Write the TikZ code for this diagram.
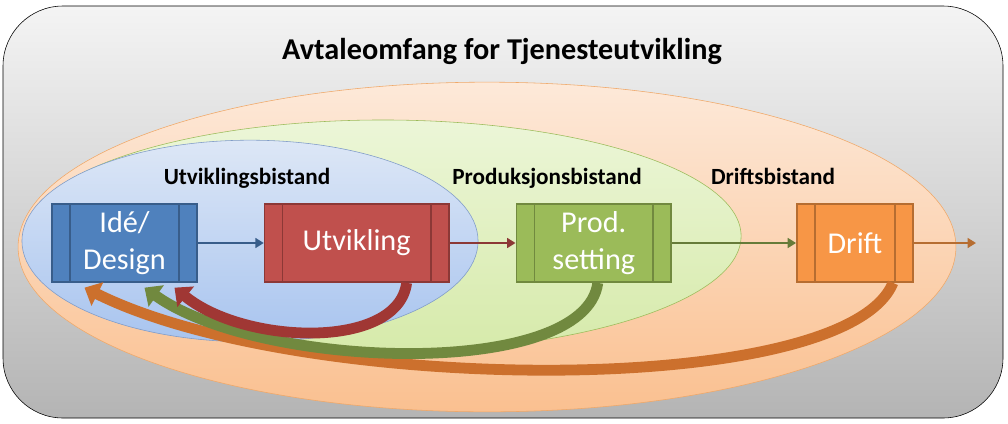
\documentclass[tikz,border=0pt]{standalone}
\usepackage{fontspec}
\setmainfont{Carlito}
\usetikzlibrary{positioning, arrows.meta}
\definecolor{frametop}{HTML}{F4F4F4}
\definecolor{framebot}{HTML}{B4B4B4}
\definecolor{ideablue}{HTML}{4F81BD}
\definecolor{idealine}{HTML}{385D8A}
\definecolor{devred}{HTML}{C0504D}
\definecolor{devline}{HTML}{8C3836}
\definecolor{prodgreen}{HTML}{9BBB59}
\definecolor{prodline}{HTML}{71893F}
\definecolor{opsorange}{HTML}{F79646}
\definecolor{opsline}{HTML}{B66D31}
\definecolor{opstop}{HTML}{FDE9D9}
\definecolor{opsbot}{HTML}{FAC090}
\definecolor{opsedge}{HTML}{F0A868}
\definecolor{prodtop}{HTML}{ECF6D8}
\definecolor{prodbot}{HTML}{D6EAAA}
\definecolor{devtop}{HTML}{DDE7F6}
\definecolor{devbot}{HTML}{A8C4EF}
\definecolor{devedge}{HTML}{7F9BC8}
\definecolor{opsback}{HTML}{CC702D}
\definecolor{devback}{HTML}{A03734}
\tikzset{
    procbox/.style 2 args={rectangle, fill=#1, draw=#2, line width=1.2pt, minimum height=1.95cm, inner sep=0pt,
        text=white, font=\fontsize{21.5}{26}\selectfont, align=center,
        path picture={\draw[#2, line width=1.2pt]
            ([xshift=0.45cm]path picture bounding box.north west) -- ([xshift=0.45cm]path picture bounding box.south west)
            ([xshift=-0.45cm]path picture bounding box.north east) -- ([xshift=-0.45cm]path picture bounding box.south east);}},
    zone/.style={anchor=base, font=\fontsize{16.5}{19}\selectfont\bfseries},
    flow/.style={line width=2pt, -{Triangle[width=7pt, length=6pt]}},
    loopback/.style={line width=0.27cm, -{Triangle[width=0.64cm, length=0.36cm]}}
}
\begin{document}
\begin{tikzpicture}[x=0.025cm, y=-0.025cm]
    \useasboundingbox (0,0) rectangle (1008,423);
    % ramme og omfang
    \shade[top color=frametop, bottom color=framebot, draw=black, rounded corners=1.5cm] (3,6) rectangle (1003,418);
    \node (title) at (502,51) {\fontsize{21.5}{25}\selectfont\bfseries Avtaleomfang for Tjenesteutvikling};

    \shade[top color=opstop, bottom color=opsbot, draw=opsedge] (487,247) ellipse [x radius=11.72cm, y radius=4.12cm];
    \shade[top color=prodtop, bottom color=prodbot, draw=prodgreen] (383,236) ellipse [x radius=8.95cm, y radius=2.9cm];
    \shade[top color=devtop, bottom color=devbot, draw=devedge] (250,241) ellipse [x radius=5.7cm, y radius=2.52cm];

    \node[zone] (devzone) at (247,184) {Utviklingsbistand};
    \node[zone] (prodzone) at (547,184) {Produksjonsbistand};
    \node[zone] (opszone) at (773,184) {Driftsbistand};

    % prosessboksene
    \node[procbox={ideablue}{idealine}, minimum width=3.62cm] (idea) at (124.5,243) {Idé/\\Design};
    \node[procbox={devred}{devline}, minimum width=4.6cm, right=1.65cm of idea] (dev) {Utvikling};
    \node[procbox={prodgreen}{prodline}, minimum width=3.87cm, right=1.65cm of dev] (prod) {Prod.\\setting};
    \node[procbox={opsorange}{opsline}, minimum width=2.9cm, right=3.1cm of prod] (ops) {Drift};
    \coordinate (out) at (976,243);

    \draw[flow, idealine] (idea) -- (dev);
    \draw[flow, devline] (dev) -- (prod);
    \draw[flow, prodline!90!black] (prod) -- (ops);
    \draw[flow, opsline] (ops) -- (out);

    % tilbakemeldinger til Idé/Design
    \draw[loopback, opsback] ([xshift=0.95cm]ops.south) .. controls (845,400) and (300,395) .. ([xshift=-1cm,yshift=-0.12cm]idea.south);
    \draw[loopback, prodline] ([xshift=0.1cm]prod.south) .. controls (585,380) and (260,370) .. ([xshift=0.5cm,yshift=-0.12cm]idea.south);
    \draw[loopback, devback] ([xshift=1.25cm]dev.south) .. controls (398,350) and (245,345) .. ([xshift=1.25cm,yshift=-0.12cm]idea.south);
\end{tikzpicture}
\end{document}
